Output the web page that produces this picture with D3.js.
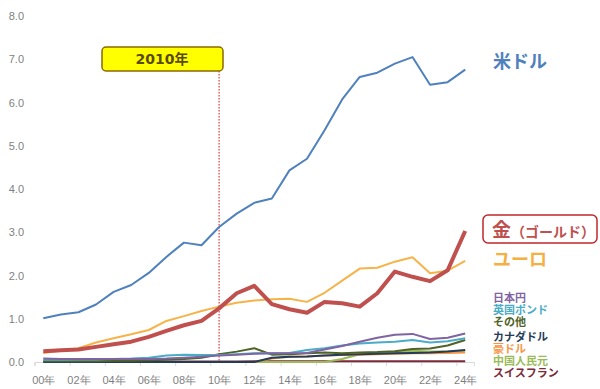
<!DOCTYPE html>
<html>
<head>
<meta charset="utf-8">
<script src="https://cdn.jsdelivr.net/npm/d3@7"></script>
<style>
  body { margin: 0; background: #fff; }
  svg { display: block; font-family: "DejaVu Sans", "Noto Sans CJK JP", sans-serif; }
</style>
</head>
<body>
<script>
var years = ["00","01","02","03","04","05","06","07","08","09","10","11","12",
             "13","14","15","16","17","18","19","20","21","22","23","24"]

// 兆ドル
var usd   = [1.01,1.10,1.15,1.33,1.62,1.78,2.06,2.43,2.76,2.70,3.12,3.43,3.68,
             3.78,4.43,4.70,5.36,6.07,6.59,6.69,6.90,7.05,6.41,6.47,6.76]
var gold  = [0.25,0.27,0.29,0.35,0.41,0.47,0.58,0.72,0.85,0.95,1.24,1.59,1.76,
             1.34,1.22,1.14,1.39,1.36,1.28,1.59,2.09,1.97,1.87,2.12,3.03]
var euro  = [0.21,0.26,0.32,0.45,0.55,0.64,0.74,0.95,1.06,1.18,1.28,1.37,1.42,
             1.45,1.46,1.39,1.60,1.88,2.16,2.18,2.32,2.42,2.05,2.11,2.34]
var yen   = [0.08,0.07,0.07,0.07,0.07,0.07,0.07,0.08,0.10,0.12,0.15,0.17,0.19,
             0.20,0.20,0.21,0.29,0.37,0.47,0.56,0.63,0.65,0.53,0.56,0.66]
var pound = [0.05,0.05,0.06,0.06,0.07,0.08,0.10,0.15,0.17,0.16,0.16,0.18,0.20,
             0.20,0.21,0.28,0.32,0.38,0.43,0.45,0.47,0.51,0.45,0.48,0.55]
var other = [0.02,0.02,0.02,0.02,0.03,0.03,0.04,0.05,0.07,0.10,0.18,0.24,0.32,
             0.17,0.18,0.20,0.22,0.20,0.22,0.23,0.25,0.30,0.31,0.38,0.51]
var cad   = [0.00,0.00,0.00,0.00,0.00,0.00,0.00,0.00,0.00,0.00,0.00,0.00,0.00,
             0.10,0.12,0.13,0.15,0.17,0.18,0.19,0.20,0.21,0.22,0.24,0.28]
var aud   = [0.00,0.00,0.00,0.00,0.00,0.00,0.00,0.00,0.00,0.00,0.00,0.00,0.00,
             0.08,0.12,0.13,0.15,0.16,0.17,0.18,0.19,0.20,0.20,0.21,0.22]
var cny   = [0.00,0.00,0.00,0.00,0.00,0.00,0.00,0.00,0.00,0.00,0.00,0.00,0.00,
             0.00,0.00,0.00,0.00,0.07,0.18,0.20,0.22,0.26,0.24,0.24,0.26]
var chf   = [0.01,0.01,0.01,0.01,0.01,0.01,0.01,0.01,0.01,0.01,0.01,0.01,0.02,
             0.02,0.02,0.02,0.02,0.02,0.02,0.02,0.02,0.02,0.02,0.02,0.02]

var yTicks = [0,1,2,3,4,5,6,7,8]

var width = 600, height = 389

var svg = d3.select('body')
  .append('svg')
  .attr('width', width)
  .attr('height', height)

var x = d3.scaleLinear().domain([-0.5, years.length - 0.5]).range([34.5, 474])
var y = d3.scaleLinear().domain([0, 8]).range([362, 16])

// y axis labels only
svg.append('g')
  .attr('transform', 'translate(24,0)')
  .call(d3.axisLeft(y).tickValues(yTicks).tickSize(0).tickPadding(0).tickFormat(d3.format('.1f')))
  .call(function(g) { g.select('.domain').remove() })
  .selectAll('text')
  .attr('fill', '#7f7f7f')
  .style('font-size', '11px')

// x axis line + boundary ticks
var tickPos = []
for (var i = -0.5; i <= years.length - 0.5; i += 2) tickPos.push(i)
svg.append('g')
  .attr('transform', 'translate(0,362)')
  .call(d3.axisBottom(x).tickValues(tickPos).tickSize(4).tickFormat(''))
  .call(function(g) {
    g.selectAll('line').attr('stroke', '#d9d9d9')
    g.select('.domain').attr('stroke', '#d9d9d9')
  })

// x labels every 2 years
svg.append('g')
  .attr('transform', 'translate(0,362)')
  .call(d3.axisBottom(x)
    .tickValues(years.map(function(d, i) { return i }).filter(function(i) { return i % 2 === 0 }))
    .tickSize(0).tickPadding(14)
    .tickFormat(function(i) { return years[i] + '年' }))
  .call(function(g) { g.select('.domain').remove() })
  .selectAll('text')
  .attr('fill', '#7f7f7f')
  .style('font-size', '11px')

// 2010 marker
svg.append('line')
  .attr('x1', x(10)).attr('x2', x(10))
  .attr('y1', 71).attr('y2', 362)
  .attr('stroke', '#e01010')
  .attr('stroke-width', 1)
  .attr('stroke-dasharray', '1.5,1.5')

svg.append('rect')
  .attr('x', 102).attr('y', 47)
  .attr('width', 121).attr('height', 24)
  .attr('rx', 4)
  .attr('fill', '#ffff00')
  .attr('stroke', '#8a6a00')
  .attr('stroke-width', 1.5)

svg.append('text')
  .attr('x', 162).attr('y', 64)
  .attr('text-anchor', 'middle')
  .attr('fill', '#5a4a00')
  .style('font-size', '14px')
  .style('font-weight', 'bold')
  .text('2010年')

var line = d3.line()
  .x(function(d, i) { return x(i) })
  .y(function(d) { return y(d) })

var series = [
  { v: chf,   c: '#7b2a3a', w: 2 },
  { v: cny,   c: '#9bbb59', w: 2 },
  { v: aud,   c: '#f79646', w: 2 },
  { v: cad,   c: '#243b5a', w: 2 },
  { v: other, c: '#4f6228', w: 2 },
  { v: pound, c: '#4bacc6', w: 2 },
  { v: yen,   c: '#8064a2', w: 2 },
  { v: euro,  c: '#f6b349', w: 2 },
  { v: gold,  c: '#c0504d', w: 4 },
  { v: usd,   c: '#4f81bd', w: 2 }
]

svg.selectAll('.series')
  .data(series)
  .enter()
  .append('path')
  .classed('series', true)
  .attr('d', function(d) { return line(d.v) })
  .attr('fill', 'none')
  .attr('stroke', function(d) { return d.c })
  .attr('stroke-width', function(d) { return d.w })
  .attr('stroke-linejoin', 'round')

// big labels
svg.append('text')
  .attr('x', 493).attr('y', 68)
  .attr('fill', '#4f81bd')
  .style('font-size', '18px')
  .style('font-weight', 'bold')
  .text('米ドル')

svg.append('rect')
  .attr('x', 483).attr('y', 215)
  .attr('width', 114).attr('height', 28)
  .attr('rx', 5)
  .attr('fill', '#fff')
  .attr('stroke', '#c0282d')
  .attr('stroke-width', 1.5)

var goldLabel = svg.append('text')
  .attr('x', 492).attr('y', 237)
  .attr('fill', '#c0504d')
  .style('font-weight', 'bold')
goldLabel.append('tspan').style('font-size', '19px').text('金')
goldLabel.append('tspan').style('font-size', '14px').text('（ゴールド）')

svg.append('text')
  .attr('x', 493).attr('y', 266)
  .attr('fill', '#f4b043')
  .style('font-size', '18px')
  .style('font-weight', 'bold')
  .text('ユーロ')

// small legend
var legend = [
  { t: '日本円',       c: '#8064a2', y: 302 },
  { t: '英国ポンド',   c: '#4bacc6', y: 314 },
  { t: 'その他',       c: '#4f6228', y: 326 },
  { t: 'カナダドル',   c: '#243b5a', y: 341 },
  { t: '豪ドル',       c: '#f79646', y: 353 },
  { t: '中国人民元',   c: '#9bbb59', y: 365 },
  { t: 'スイスフラン', c: '#7b2a3a', y: 377 }
]

svg.selectAll('.legend')
  .data(legend)
  .enter()
  .append('text')
  .classed('legend', true)
  .attr('x', 493)
  .attr('y', function(d) { return d.y })
  .attr('fill', function(d) { return d.c })
  .style('font-size', '11px')
  .style('font-weight', 'bold')
  .text(function(d) { return d.t })
</script>
</body>
</html>
